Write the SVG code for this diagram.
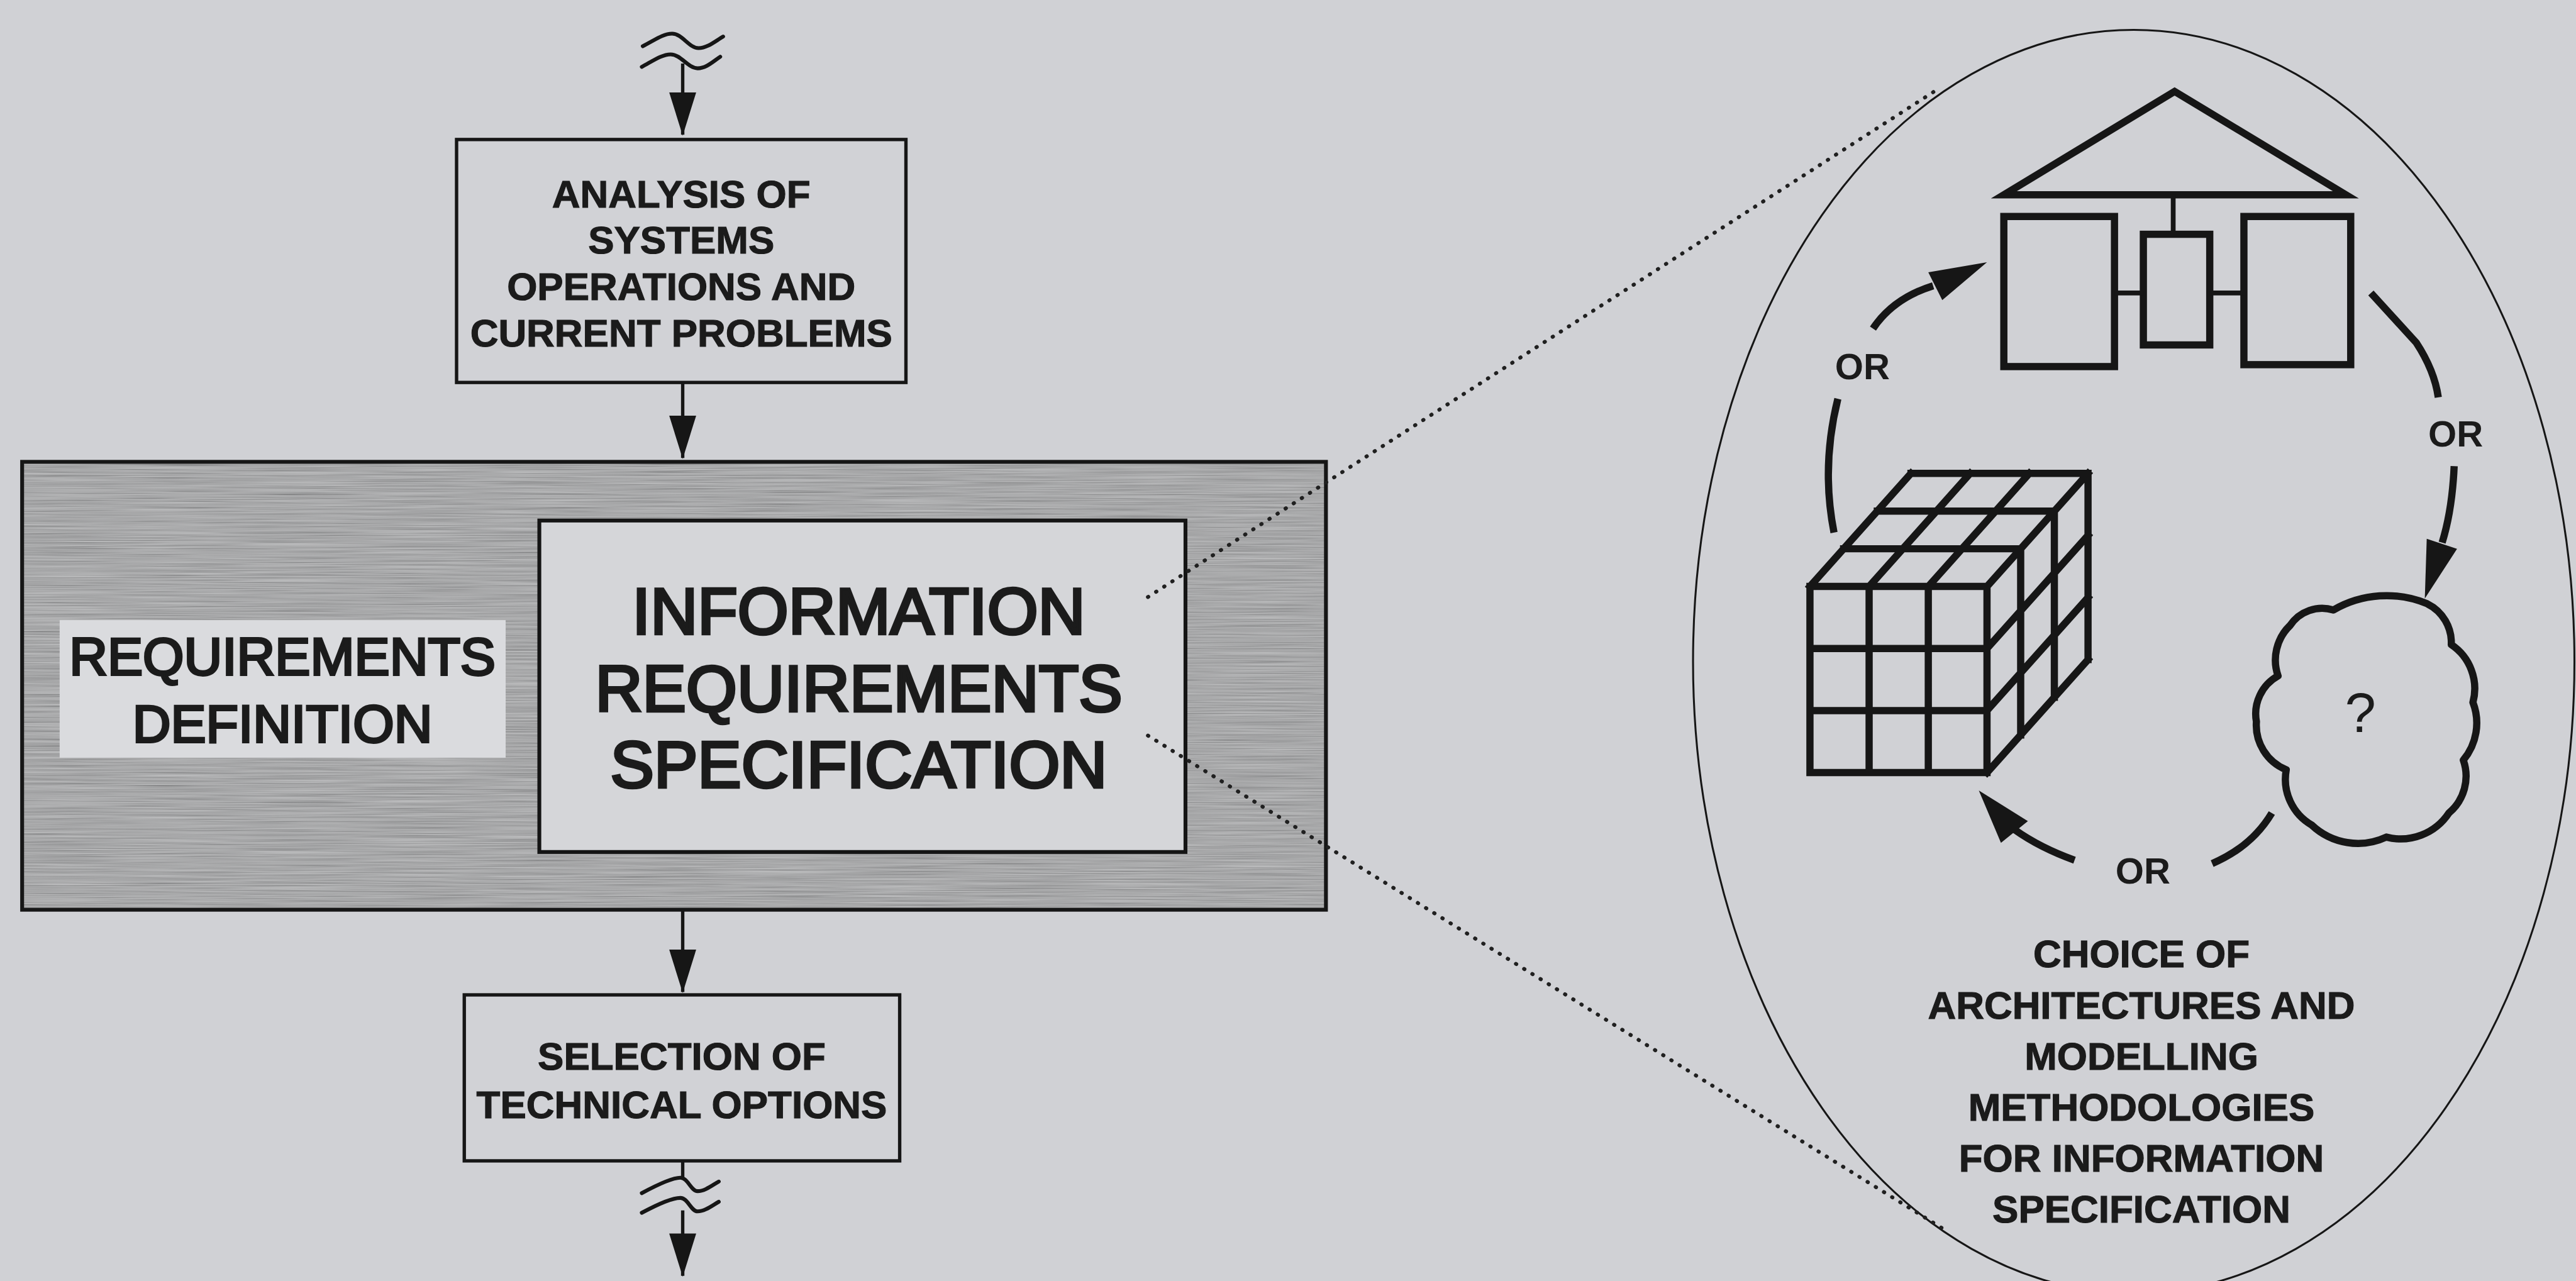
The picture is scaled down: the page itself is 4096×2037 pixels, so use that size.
<svg xmlns="http://www.w3.org/2000/svg" width="4096" height="2037" viewBox="0 0 4096 2037">
  <style>
    .box{fill:#d1d2d6;stroke:#161616;stroke-width:7}
    .txt{font-family:"Liberation Sans",Arial,Helvetica,sans-serif;fill:#1b1b1b;text-anchor:middle}
    .lbl{font-weight:bold;font-size:81px;stroke:#1b1b1b;stroke-width:1.5}
    .big{font-size:136px;stroke:#1b1b1b;stroke-width:6}
    .mid{font-size:110px;stroke:#1b1b1b;stroke-width:5}
    .or{font-weight:bold;font-size:76px}
    .wire{fill:none;stroke:#161616;stroke-width:7}
    .wave{fill:none;stroke:#161616;stroke-width:8;stroke-linecap:round}
    .dots{fill:none;stroke:#202020;stroke-width:8;stroke-linecap:round;stroke-dasharray:1 19}
    .ico{fill:none;stroke:#161616;stroke-width:15}
    .thin{fill:none;stroke:#161616;stroke-width:10}
    .cyc{fill:none;stroke:#161616;stroke-width:15}
    .head{fill:#161616}
  </style>
  <defs>
    <marker id="tip" viewBox="0 0 90 56" refX="88" refY="28" markerWidth="90" markerHeight="56" markerUnits="userSpaceOnUse" orient="auto">
      <path d="M0,0 L90,28 L0,56 z" fill="#161616"/>
    </marker>
    <filter id="grain" x="0" y="0" width="100%" height="100%">
      <feTurbulence type="fractalNoise" baseFrequency="0.004 0.4" numOctaves="3" seed="7" result="n"/>
      <feColorMatrix in="n" type="matrix" values="1 0 0 0 -0.05  1 0 0 0 -0.05  1 0 0 0 -0.05  0 0 0 0 0.4"/>
    </filter>
  </defs>

  <rect width="4096" height="2037" fill="#d0d1d5"/>

  <g transform="scale(0.765)">
    <!-- flowchart nodes -->
    <g id="analysis">
      <rect class="box" x="949" y="290" width="934" height="505"/>
      <text class="txt lbl" x="1416" y="432">ANALYSIS OF</text>
      <text class="txt lbl" x="1416" y="527">SYSTEMS</text>
      <text class="txt lbl" x="1416" y="623">OPERATIONS AND</text>
      <text class="txt lbl" x="1416" y="720">CURRENT PROBLEMS</text>
    </g>

    <g id="requirements-definition">
      <rect x="46" y="960" width="2710" height="931" fill="#a0a1a3"/>
      <rect x="46" y="960" width="2710" height="931" fill="#888" filter="url(#grain)"/>
      <rect x="46" y="960" width="2710" height="931" fill="none" stroke="#161616" stroke-width="8"/>
      <rect x="124" y="1289" width="927" height="286" fill="#dadbde"/>
      <text class="txt mid" x="587" y="1402">REQUIREMENTS</text>
      <text class="txt mid" x="587" y="1543">DEFINITION</text>
    </g>

    <g id="information-spec">
      <rect x="1121" y="1082" width="1343" height="689" fill="#d5d6d9" stroke="#141414" stroke-width="8"/>
      <text class="txt big" x="1785" y="1318">INFORMATION</text>
      <text class="txt big" x="1785" y="1479">REQUIREMENTS</text>
      <text class="txt big" x="1785" y="1637">SPECIFICATION</text>
    </g>

    <g id="technical-options">
      <rect class="box" x="965" y="2068" width="905" height="345"/>
      <text class="txt lbl" x="1417" y="2224">SELECTION OF</text>
      <text class="txt lbl" x="1417" y="2324">TECHNICAL OPTIONS</text>
    </g>

    <!-- magnified view: choice of architectures -->
    <g id="choice-frame">
      <ellipse cx="4435" cy="1375" rx="916" ry="1313" fill="none" stroke="#161616" stroke-width="4"/>
    </g>

    <g id="architecture-tree">
      <polygon class="ico" points="4520,190 4165,405 4876,405" stroke-width="18" stroke-linejoin="miter"/>
      <line class="thin" x1="4517" y1="405" x2="4517" y2="487"/>
      <rect class="ico" x="4165" y="450" width="230" height="312"/>
      <rect class="ico" x="4455" y="487" width="138" height="230" stroke-width="13"/>
      <rect class="ico" x="4664" y="450" width="222" height="308"/>
      <line class="thin" x1="4395" y1="609" x2="4455" y2="609"/>
      <line class="thin" x1="4593" y1="609" x2="4664" y2="609"/>
    </g>

    <g id="data-cube">
      <path class="ico" stroke-width="13" stroke-linecap="square" d="
        M3762,1219 V1606 M3885,1219 V1606 M4008,1219 V1606 M4130,1219 V1606
        M3762,1219 H4130 M3762,1348 H4130 M3762,1477 H4130 M3762,1606 H4130
        M3762,1219 l210,-235 M3885,1219 l210,-235 M4008,1219 l210,-235 M4130,1219 l210,-235
        M3832,1140.7 H4200 M3902,1062.3 H4270 M3972,984 H4340
        M4130,1348 l210,-235 M4130,1477 l210,-235 M4130,1606 l210,-235
        M4200,1140.7 V1527.7 M4270,1062.3 V1449.3 M4340,984 V1371"/>
    </g>

    <g id="unknown-method">
      <path class="ico" stroke-width="14" stroke-linejoin="round" d="
        M4850,1268 A220,220 0 0 1 5045,1255
        A90,90 0 0 1 5095,1340
        A110,110 0 0 1 5140,1460
        A120,120 0 0 1 5120,1580
        A100,100 0 0 1 5090,1690
        A120,120 0 0 1 4960,1740
        A140,140 0 0 1 4805,1715
        A110,110 0 0 1 4752,1600
        A100,100 0 0 1 4690,1500
        A90,90 0 0 1 4735,1405
        A100,100 0 0 1 4760,1300
        A80,80 0 0 1 4850,1268 Z"/>
      <text class="txt" x="4906" y="1522" font-size="116">?</text>
    </g>

    <g id="choice-caption">
      <text class="txt lbl" x="4451" y="2011">CHOICE OF</text>
      <text class="txt lbl" x="4451" y="2117">ARCHITECTURES AND</text>
      <text class="txt lbl" x="4451" y="2223">MODELLING</text>
      <text class="txt lbl" x="4451" y="2329">METHODOLOGIES</text>
      <text class="txt lbl" x="4451" y="2435">FOR INFORMATION</text>
      <text class="txt lbl" x="4451" y="2541">SPECIFICATION</text>
    </g>

    <!-- connectors -->
    <g id="connectors">
      <!-- flow in from earlier stages -->
      <path class="wave" d="M1336,96 C1360,84 1378,70 1397,70 C1418,70 1432,100 1452,100 C1470,100 1486,86 1503,76"/>
      <path class="wave" d="M1334,139 C1358,126 1376,113 1394,113 C1415,113 1430,142 1450,142 C1468,142 1482,128 1497,118"/>
      <line class="wire" x1="1419" y1="132" x2="1419" y2="280" marker-end="url(#tip)"/>
      <line class="wire" x1="1419" y1="795" x2="1419" y2="952" marker-end="url(#tip)"/>
      <line class="wire" x1="1419" y1="1891" x2="1419" y2="2062" marker-end="url(#tip)"/>
      <!-- flow out to later stages -->
      <line class="wire" x1="1419" y1="2413" x2="1419" y2="2452"/>
      <path class="wave" d="M1334,2480 C1360,2466 1395,2448 1414,2448 C1430,2448 1436,2476 1450,2476 C1465,2476 1480,2464 1494,2456"/>
      <path class="wave" d="M1334,2521 C1360,2507 1395,2490 1414,2490 C1430,2490 1436,2518 1450,2518 C1465,2518 1480,2506 1494,2498"/>
      <line class="wire" x1="1419" y1="2516" x2="1419" y2="2652" marker-end="url(#tip)"/>

      <!-- magnifier rays -->
      <line class="dots" x1="2386" y1="1241" x2="4019" y2="191"/>
      <line class="dots" x1="2386" y1="1529" x2="4040" y2="2555"/>

      <!-- alternation cycle -->
      <path class="cyc" d="M3893,683 Q3935,620 4018,594"/>
      <polygon class="head" points="4130,545 4008,566 4037,624"/>
      <path class="cyc" d="M4928,609 L5022,712 Q5060,770 5068,826"/>
      <path class="cyc" d="M5101,969 Q5097,1060 5076,1128"/>
      <polygon class="head" points="5040,1244 5044,1120 5107,1141"/>
      <path class="cyc" d="M4722,1690 Q4680,1760 4598,1795"/>
      <path class="cyc" d="M4312,1788 Q4240,1762 4188,1725"/>
      <polygon class="head" points="4113,1643 4159,1752 4215,1707"/>
      <path class="cyc" d="M3820,829 Q3785,970 3812,1107"/>
    </g>

    <g id="or-labels">
      <text class="txt or" x="3871" y="788">OR</text>
      <text class="txt or" x="5104" y="928">OR</text>
      <text class="txt or" x="4454" y="1837">OR</text>
    </g>
  </g>
</svg>
